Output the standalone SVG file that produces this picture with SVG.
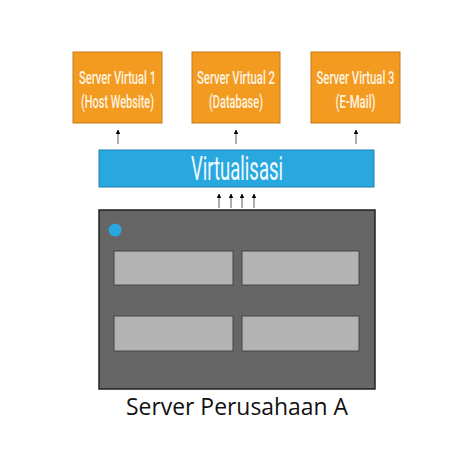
<svg xmlns="http://www.w3.org/2000/svg" width="474" height="474" viewBox="0 0 474 474">
<defs>
<style>
.vm{fill:#F29B20;stroke:#C8791A;stroke-width:1}
.vt{font-family:"Roboto","Liberation Sans",sans-serif;font-size:18px;font-weight:500;fill:#FFF3E0;text-anchor:middle}
.ar{stroke:#777;stroke-width:1.2;fill:none}
.slot{fill:#B3B3B3;stroke:#444;stroke-width:1}
</style>
<marker id="ah" viewBox="0 0 10 10" refX="9" refY="5" markerWidth="4" markerHeight="4" orient="auto">
<path d="M0,0 L10,5 L0,10 Z" fill="#000"/>
</marker>
</defs>
<rect width="474" height="474" fill="#fff"/>
<g id="vm1">
<rect class="vm" x="73" y="52" width="89" height="71"/>
<text class="vt" x="117.5" y="84" textLength="77" lengthAdjust="spacingAndGlyphs">Server Virtual 1</text>
<text class="vt" x="117.5" y="108" textLength="73" lengthAdjust="spacingAndGlyphs">(Host Website)</text>
</g>
<g id="vm2">
<rect class="vm" x="192" y="52" width="88" height="71"/>
<text class="vt" x="236" y="84" textLength="78" lengthAdjust="spacingAndGlyphs">Server Virtual 2</text>
<text class="vt" x="236" y="108" textLength="54" lengthAdjust="spacingAndGlyphs">(Database)</text>
</g>
<g id="vm3">
<rect class="vm" x="311" y="52" width="89" height="71"/>
<text class="vt" x="355.5" y="84" textLength="78" lengthAdjust="spacingAndGlyphs">Server Virtual 3</text>
<text class="vt" x="355.5" y="108" textLength="40" lengthAdjust="spacingAndGlyphs">(E-Mail)</text>
</g>
<g id="virtualisasi">
<rect x="99" y="150" width="275" height="37" fill="#29A8E0" stroke="#1E7FAD" stroke-width="1"/>
<text x="237" y="180" font-family="Roboto,'Liberation Sans',sans-serif" font-size="33" fill="#F2FAFF" text-anchor="middle" textLength="92" lengthAdjust="spacingAndGlyphs">Virtualisasi</text>
</g>
<g id="server">
<rect x="99" y="210" width="276" height="179" fill="#666" stroke="#222" stroke-width="1.5"/>
<circle cx="115" cy="230" r="6.5" fill="#29A8E0"/>
<rect class="slot" x="114" y="251" width="119" height="34"/>
<rect class="slot" x="242" y="251" width="117" height="34"/>
<rect class="slot" x="114" y="316" width="119" height="35"/>
<rect class="slot" x="242" y="316" width="117" height="35"/>
<text x="237" y="415" font-family="'Open Sans','Liberation Sans',sans-serif" font-size="23" fill="#111" text-anchor="middle" textLength="222" lengthAdjust="spacingAndGlyphs">Server Perusahaan A</text>
</g>
<g id="connectors">
<line class="ar" x1="118" y1="144" x2="118" y2="130" marker-end="url(#ah)"/>
<line class="ar" x1="236" y1="144" x2="236" y2="130" marker-end="url(#ah)"/>
<line class="ar" x1="356" y1="144" x2="356" y2="130" marker-end="url(#ah)"/>
<line class="ar" x1="219" y1="208" x2="219" y2="194" marker-end="url(#ah)"/>
<line class="ar" x1="231" y1="208" x2="231" y2="194" marker-end="url(#ah)"/>
<line class="ar" x1="242" y1="208" x2="242" y2="194" marker-end="url(#ah)"/>
<line class="ar" x1="254" y1="208" x2="254" y2="194" marker-end="url(#ah)"/>
</g>
</svg>
